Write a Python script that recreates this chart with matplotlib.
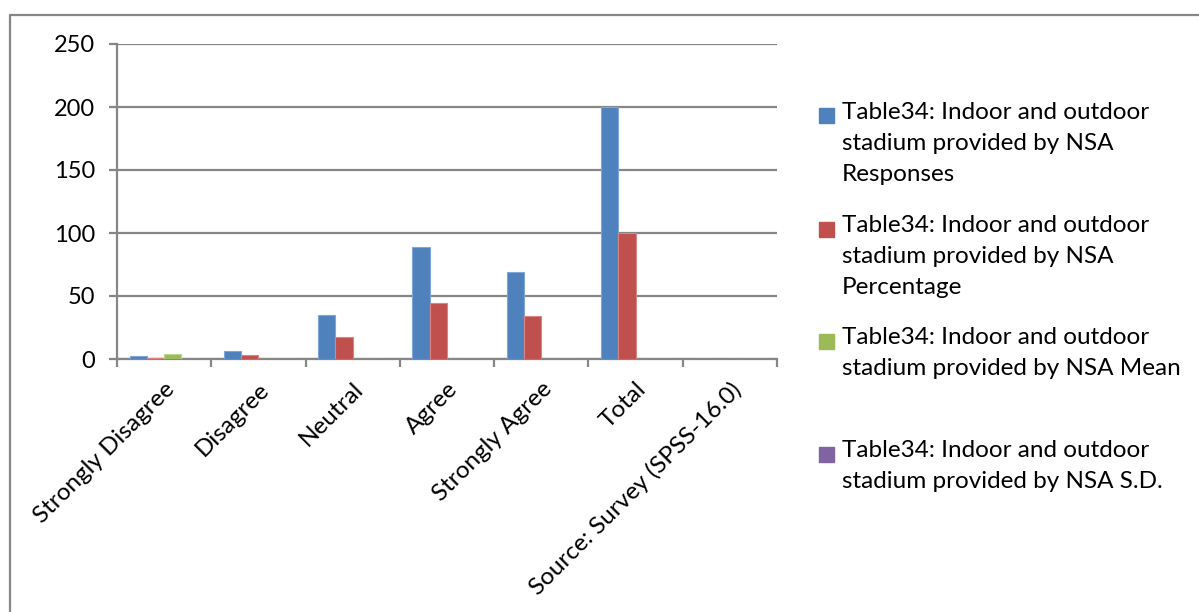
import matplotlib.pyplot as plt
from matplotlib.patches import Rectangle
from matplotlib.lines import Line2D
import numpy as np

plt.rcParams['font.family'] = ['Lato', 'DejaVu Sans']

categories = ['Strongly Disagree', 'Disagree', 'Neutral', 'Agree',
              'Strongly Agree', 'Total', 'Source: Survey (SPSS-16.0)']
responses = [2, 6, 35, 89, 69, 200, 0]
percentage = [1, 3, 17.5, 44.5, 34.5, 100, 0]
mean = [4.05, 0, 0, 0, 0, 0, 0]
sd = [0, 0, 0, 0, 0, 0, 0]

series = [
    ('Table34: Indoor and outdoor\nstadium provided by NSA\nResponses', responses, '#4F81BD', '#7FA6D6'),
    ('Table34: Indoor and outdoor\nstadium provided by NSA\nPercentage', percentage, '#C0504D', '#DA8583'),
    ('Table34: Indoor and outdoor\nstadium provided by NSA Mean', mean, '#9BBB59', '#BDD68F'),
    ('Table34: Indoor and outdoor\nstadium provided by NSA S.D.', sd, '#8064A2', '#A893C2'),
]

W, H = 1199, 612
fig = plt.figure(figsize=(W / 100, H / 100), dpi=100)
ax = fig.add_axes([117 / W, 1 - 359 / H, (777 - 117) / W, (359 - 44) / H])

x = np.arange(len(categories))
w = 0.183
for i, (lab, vals, col, edge) in enumerate(series):
    ax.bar(x + (i - 1.5) * w, vals, width=w, color=col, edgecolor=edge,
           linewidth=0.8, zorder=3)

ax.set_xlim(-0.5, len(categories) - 0.5)
ax.set_ylim(0, 250)
ax.set_yticks(range(0, 251, 50))
ax.grid(axis='y', color='#868686', linewidth=1.6, zorder=0)
ax.set_xticks(np.arange(len(categories) + 1) - 0.5, minor=False)
ax.set_xticklabels([])
ax.set_xticks(x, minor=True)
ax.set_xticklabels(categories, minor=True, rotation=45, ha='right', va='top',
                   rotation_mode='anchor', fontsize=17.5)
ax.tick_params(axis='x', which='minor', length=0, pad=14)
ax.tick_params(axis='x', which='major', length=6, width=1.6, color='#868686')
ax.tick_params(axis='y', length=6, width=1.6, color='#868686', labelsize=17, pad=10)
for s in ['top', 'right']:
    ax.spines[s].set_visible(False)
for s in ['left', 'bottom']:
    ax.spines[s].set_color('#868686')
    ax.spines[s].set_linewidth(1.6)

# legend drawn by hand so that the squares sit on the first text line
legend_y = [116, 229, 341, 454]
for (lab, vals, col, edge), yy in zip(series, legend_y):
    fig.patches.append(Rectangle((819 / W, 1 - (yy + 7.5) / H), 15 / W, 15 / H,
                                 transform=fig.transFigure, color=col))
    fig.text(842 / W, 1 - (yy - 14) / H, lab, fontsize=17.5, va='top', ha='left',
             linespacing=1.6)

# outer chart border
fig.lines.append(Line2D([10 / W, 10 / W, 1], [0, 1 - 15 / H, 1 - 15 / H],
                        transform=fig.transFigure, color='#868686', linewidth=1.6))

fig.savefig('out.png', dpi=100)
